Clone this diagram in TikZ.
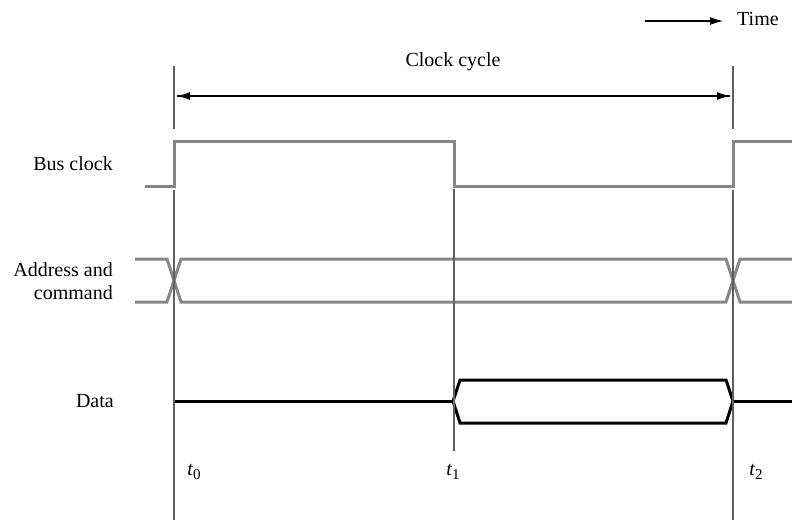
\documentclass[tikz,border=0pt]{standalone}
\usepackage{fontspec}
\setmainfont{Liberation Serif}
\usetikzlibrary{arrows.meta}
\definecolor{sig}{RGB}{135,135,135}
\definecolor{guide}{RGB}{95,95,95}
\tikzset{
  sigline/.style={draw=sig, line width=3pt, line join=miter},
  dataline/.style={draw=black, line width=3pt, line join=miter},
  guideline/.style={draw=guide, line width=1.4pt},
  dimarrow/.style={draw=black, line width=1.1pt, -{Latex[length=13pt,width=8pt]}},
  lbl/.style={font=\fontsize{20}{23}\selectfont, inner sep=0pt},
  tlbl/.style={font=\fontsize{20}{23}\selectfont, inner sep=0pt}
}
\newcommand{\tsub}[1]{{\itshape t}\raisebox{-0.45ex}{\fontsize{15}{15}\selectfont #1}}
\begin{document}
\begin{tikzpicture}[x=1pt,y=-1pt]
\useasboundingbox (0,0) rectangle (792,520);
% guide coordinates
\coordinate (g0top) at (174,66);
\coordinate (g0a) at (174,129);
\coordinate (g0b) at (174,190);
\coordinate (g0bot) at (174,520);
\coordinate (g1b) at (454,189);
\coordinate (g1bot) at (454,451);
\coordinate (g2top) at (733,66);
\coordinate (g2a) at (733,129);
\coordinate (g2b) at (733,190);
\coordinate (g2bot) at (733,520);
% clock cycle arrow
\coordinate (cc0) at (177,96);
\coordinate (cc1) at (730,96);
\draw[dimarrow] (cc1) -- (cc0);
\draw[dimarrow] (cc0) -- (cc1);
\node[lbl] (cctext) at (453,62) {Clock cycle};
% time arrow
\coordinate (ta0) at (645,21);
\coordinate (ta1) at (723,21);
\draw[dimarrow] (ta0) -- (ta1);
\node[lbl, anchor=west] (timetext) at (737,19) {Time};
% bus clock
\draw[sigline] (145,186) -- (174,186) -- (174,141) -- (454,141) -- (454,186) -- (733,186) -- (733,141) -- (792,141);
\node[lbl, anchor=east] (busclk) at (113,164) {Bus clock};
% address and command
\draw[sigline] (135,259) -- (167,259) -- (181,302) -- (726,302) -- (740,259) -- (792,259);
\draw[sigline] (135,302) -- (167,302) -- (181,259) -- (726,259) -- (740,302) -- (792,302);
\node[lbl, anchor=east, align=right] (addr) at (113,281) {Address and\\command};
% data
\draw[dataline] (174,401) -- (453,401);
\draw[dataline] (453,401) -- (460,380) -- (726,380) -- (733,401) -- (726,423) -- (460,423) -- cycle;
\draw[dataline] (733,401) -- (792,401);
\node[lbl, anchor=east] (data) at (114,401) {Data};
% vertical guide lines (drawn over the signals)
\draw[guideline] (g0top) -- (g0a);
\draw[guideline] (g0b) -- (g0bot);
\draw[guideline] (g1b) -- (g1bot);
\draw[guideline] (g2top) -- (g2a);
\draw[guideline] (g2b) -- (g2bot);
% time labels
\node[tlbl] (t0) at (194,472) {\tsub{0}};
\node[tlbl] (t1) at (453,472) {\tsub{1}};
\node[tlbl] (t2) at (756,472) {\tsub{2}};
\end{tikzpicture}
\end{document}
